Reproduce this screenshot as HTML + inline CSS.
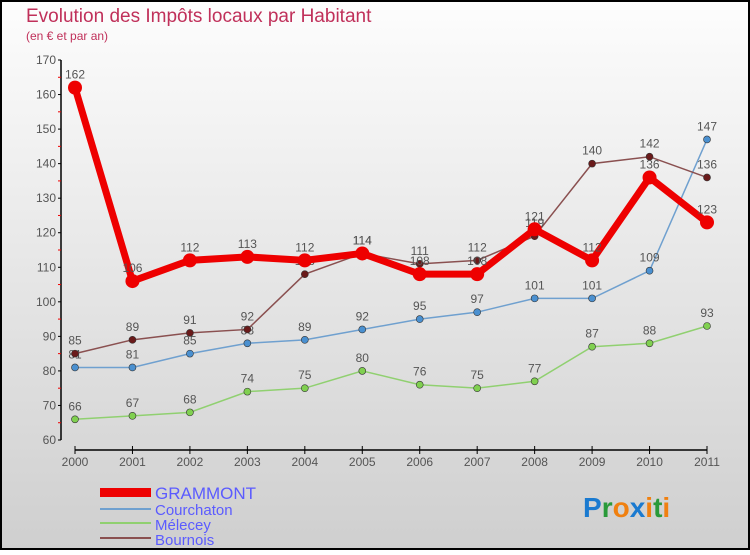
<!DOCTYPE html>
<html><head><meta charset="utf-8"><style>
html,body{margin:0;padding:0}
body{width:750px;height:550px;overflow:hidden;font-family:"Liberation Sans",sans-serif}
</style></head><body>
<svg id="chart" width="750" height="550" xmlns="http://www.w3.org/2000/svg">
<defs><linearGradient id="bg" x1="0" y1="0" x2="0" y2="1"><stop offset="0" stop-color="#fdfdfd"/><stop offset="1" stop-color="#cfcfcf"/></linearGradient></defs>
<rect x="1" y="1" width="748" height="548" fill="url(#bg)" stroke="#000" stroke-width="2"/>
<text x="26" y="22" font-size="19" fill="#c0305a">Evolution des Impôts locaux par Habitant</text>
<text x="26" y="40" font-size="12" fill="#c0305a">(en € et par an)</text>
<g id="axes"></g><g id="series"></g>
<g>
<rect x="100" y="488" width="51" height="9" fill="#e00"/>
<text x="155" y="499" font-size="17" fill="#5b5bff">GRAMMONT</text>
<line x1="100" y1="509" x2="151" y2="509" stroke="#6fa0cf" stroke-width="2"/>
<text x="155" y="515" font-size="15" fill="#5b5bff">Courchaton</text>
<line x1="100" y1="523" x2="151" y2="523" stroke="#90d070" stroke-width="2"/>
<text x="155" y="530" font-size="15" fill="#5b5bff">Mélecey</text>
<line x1="100" y1="538" x2="151" y2="538" stroke="#8a5050" stroke-width="2"/>
<text x="155" y="545" font-size="15" fill="#5b5bff">Bournois</text>
</g>
<text x="583" y="517" font-size="28" font-weight="bold"><tspan fill="#1a7ad0">P</tspan><tspan fill="#2a9a3a">r</tspan><tspan fill="#f08010">o</tspan><tspan fill="#1a7ad0">x</tspan><tspan fill="#f08010">i</tspan><tspan fill="#2a9a3a">t</tspan><tspan fill="#f08010">i</tspan></text>
</svg>
<script>
const years=["2000","2001","2002","2003","2004","2005","2006","2007","2008","2009","2010","2011"];
const grammont=[162,106,112,113,112,114,108,108,121,112,136,123];
const courchaton=[81,81,85,88,89,92,95,97,101,101,109,147];
const melecey=[66,67,68,74,75,80,76,75,77,87,88,93];
const bournois=[85,89,91,92,108,114,111,112,119,140,142,136];
const yTicks=[60,70,80,90,100,110,120,130,140,150,160,170];
const NS="http://www.w3.org/2000/svg";
const x=i=>75+i*(707-75)/11;
const y=v=>440-(v-60)*(380/110);
function mk(t,a,p){const e=document.createElementNS(NS,t);for(const k in a)e.setAttribute(k,a[k]);p.appendChild(e);return e;}
const ax=document.getElementById('axes');
const ya=mk('line',{x1:61,y1:60,x2:61,y2:440,stroke:'#000','stroke-width':1.5},ax);


yTicks.forEach(v=>{
 mk('line',{x1:58,y1:y(v),x2:61,y2:y(v),stroke:'#000'},ax);
 if(v<170) mk('line',{x1:58,y1:y(v+5),x2:61,y2:y(v+5),stroke:'#e00'},ax);
 const t=mk('text',{x:56,y:y(v)+4,'font-size':12,'text-anchor':'end',fill:'#555'},ax);
 
 
 t.textContent=v;
});
const xa=mk('line',{x1:75,y1:450,x2:707,y2:450,stroke:'#000','stroke-width':1.5},ax);


years.forEach((yr,i)=>{
 mk('line',{x1:x(i),y1:446,x2:x(i),y2:454,stroke:'#000'},ax);
 const t=mk('text',{x:x(i),y:466,'font-size':12,'text-anchor':'middle',fill:'#555'},ax);
 
 
 t.textContent=yr;
});
const sg=document.getElementById('series');
function series(name,data,color,w,r,dot){
 const g=mk('g',{},sg);
 
 
 const pl=mk('polyline',{points:data.map((v,i)=>x(i)+','+y(v)).join(' '),fill:'none',stroke:color,'stroke-width':w},g);
 
 
 data.forEach((v,i)=>{
  const c=mk('circle',{cx:x(i),cy:y(v),r:r,fill:dot,stroke:'#333','stroke-width':r>5?0:0.6},g);
  
  
  const t=mk('text',{x:x(i),y:y(v)-9,'font-size':12,'text-anchor':'middle',fill:'#555'},g);
  
  
  t.textContent=v;
 });
}
series('melecey',melecey,'#90d070',1.5,3.5,'#80d050');
series('courchaton',courchaton,'#6fa0cf',1.5,3.5,'#4a90d0');
series('bournois',bournois,'#8a5050',1.5,3.5,'#6a1a1a');
series('grammont',grammont,'#ee0000',7,7,'#ee0000');
</script>
</body></html>
